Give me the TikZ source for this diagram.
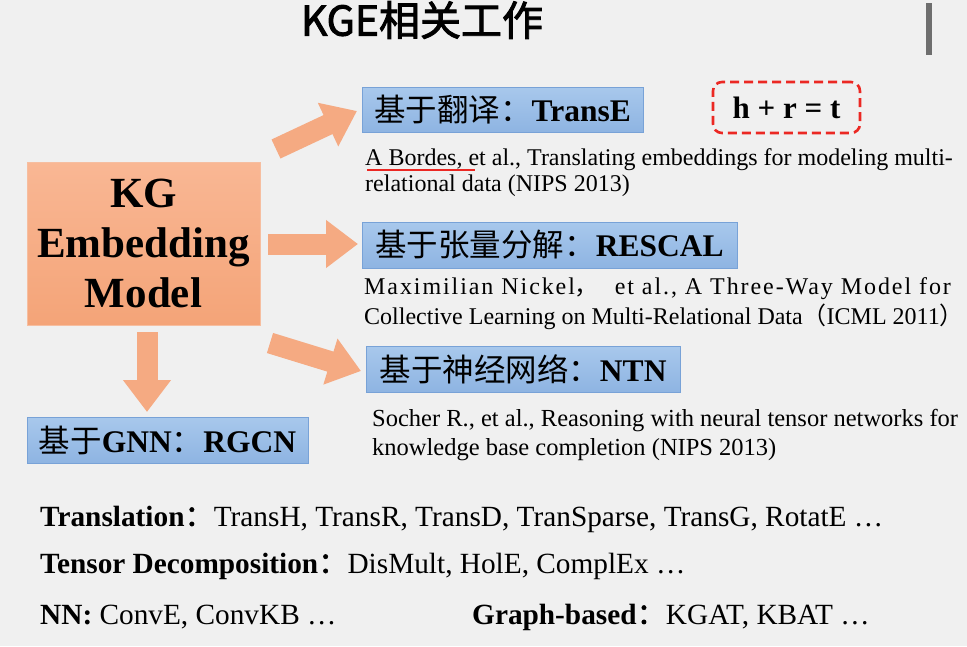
\documentclass[tikz,border=0pt]{standalone}
\usepackage{fontspec}
\setmainfont{Liberation Serif}
\newfontfamily\cjk{Noto Sans CJK SC}
\newfontfamily\cjkb[FakeBold=1.5]{Noto Sans CJK SC}
\newfontfamily\cjkt[FakeBold=2.2]{Noto Sans CJK SC}
\newfontfamily\spaced[LetterSpace=8]{Liberation Serif}
\usetikzlibrary{arrows.meta,calc}

\definecolor{bg}{RGB}{240,240,240}
\definecolor{barcol}{RGB}{110,110,110}
\definecolor{peach}{RGB}{245,170,130}
\definecolor{peachtop}{RGB}{249,183,148}
\definecolor{peachbot}{RGB}{244,164,120}
\definecolor{peachline}{RGB}{246,190,160}
\definecolor{bluetop}{RGB}{168,200,236}
\definecolor{bluebot}{RGB}{142,180,226}
\definecolor{blueline}{RGB}{120,162,215}
\definecolor{hrtred}{RGB}{235,40,35}

\tikzset{
  kgbox/.style={draw=peachline, line width=1pt, top color=peachtop, bottom color=peachbot,
    align=center, inner sep=0pt, font=\bfseries\fontsize{43}{50}\selectfont},
  methodbox/.style={draw=blueline, line width=0.8pt, top color=bluetop, bottom color=bluebot,
    inner sep=0pt, font=\fontsize{31.5}{32}\selectfont},
  barrow/.style={draw=peach, line width=21pt,
    -{Triangle[width=46pt,length=32pt]}},
  reftext/.style={anchor=west, inner sep=0pt, font=\fontsize{24}{24}\selectfont},
  listtext/.style={anchor=west, inner sep=0pt, font=\fontsize{29.3}{29}\selectfont},
}

\begin{document}
\begin{tikzpicture}[x=1pt,y=-1pt]
\useasboundingbox (0,0) rectangle (967,646);
\fill[bg] (0,0) rectangle (967,646);

% title and side bar
\node[inner sep=0pt, font=\cjkt\fontsize{41}{41}\selectfont] (title) at (422,20) {KGE相关工作};
\fill[barcol] (926,3) rectangle (932,55);

% central model box
\node[kgbox, minimum width=233pt, minimum height=163pt] (kg) at (143.5,243.5) {KG\\Embedding\\Model};

% method boxes
\node[methodbox, minimum width=281pt, minimum height=45pt] (transe) at (502.5,109.5)
  {{\cjk 基于翻译：}\textbf{TransE}};
\node[methodbox, minimum width=375pt, minimum height=46pt] (rescal) at (549.5,245)
  {{\cjk 基于张量分解：}\textbf{RESCAL}};
\node[methodbox, minimum width=314pt, minimum height=46pt] (ntn) at (523,369)
  {{\cjk 基于神经网络：}\textbf{NTN}};
\node[methodbox, minimum width=281pt, minimum height=46pt] (rgcn) at (167.5,440)
  {{\cjk 基于}\textbf{GNN}{\cjk ：}\textbf{RGCN}};

% score function
\node[draw=hrtred, line width=2.6pt, dash pattern=on 9pt off 5pt, rounded corners=9pt,
  minimum width=147pt, minimum height=51pt, inner sep=0pt,
  font=\bfseries\fontsize{31}{31}\selectfont] (hrt) at (786.5,107.5) {h + r = t};

% block arrows
\coordinate (a1s) at (276,149);
\coordinate (a1e) at (357,111);
\coordinate (a2s) at (268,244);
\coordinate (a2e) at (358,244);
\coordinate (a3s) at (270,343);
\coordinate (a3e) at (361,371);
\coordinate (a4s) at (147,332);
\coordinate (a4e) at (147,412);
\draw[barrow] (a1s) -- (a1e);
\draw[barrow] (a2s) -- (a2e);
\draw[barrow] (a3s) -- (a3e);
\draw[barrow] (a4s) -- (a4e);

% references
\node[reftext] (r1a) at (365,160) {A Bordes, et al., Translating embeddings for modeling multi-};
\node[reftext] (r1b) at (365,186) {relational data (NIPS 2013)};
\coordinate (ul1) at (367,170);
\coordinate (ul2) at (475,170);
\draw[hrtred, line width=2pt] (ul1) -- (ul2);

\node[reftext] (r2a) at (364,289) {\spaced Maximilian Nickel{\cjk ，}\ \ et al., A Three-Way Model for};
\node[reftext] (r2b) at (364,317) {Collective Learning on Multi-Relational Data{\cjk （}ICML 2011{\cjk ）}};

\node[reftext, font=\fontsize{24.5}{24}\selectfont] (r3a) at (372,421) {Socher R., et al., Reasoning with neural tensor networks for};
\node[reftext, font=\fontsize{24.5}{24}\selectfont] (r3b) at (372,450) {knowledge base completion (NIPS 2013)};

% model families
\node[listtext] (l1) at (40,519) {\textbf{Translation}{\cjkb ：}TransH, TransR, TransD, TranSparse, TransG, RotatE …};
\node[listtext] (l2) at (40,566) {\textbf{Tensor Decomposition}{\cjkb ：}DisMult, HolE, ComplEx …};
\node[listtext] (l3) at (40,617) {\textbf{NN:} ConvE, ConvKB …};
\node[listtext] (l4) at (472,617) {\textbf{Graph-based}{\cjkb ：}KGAT, KBAT …};
\end{tikzpicture}
\end{document}
